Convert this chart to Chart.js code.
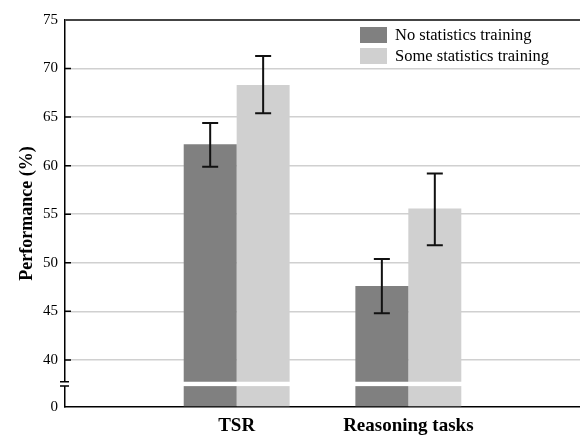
<!DOCTYPE html>
<html>
<head>
<meta charset="utf-8">
<script src="https://cdn.jsdelivr.net/npm/chart.js@4/dist/chart.umd.min.js"></script>
<style>
  html, body { margin: 0; padding: 0; background: #fff; }
  #wrap { width: 580px; height: 437px; position: relative; }
</style>
</head>
<body>
<div id="wrap"><canvas id="perf_chart"></canvas></div>
<script>
// values
const categories = ["TSR", "Reasoning tasks"];
const seriesNames = ["No statistics training", "Some statistics training"];
const noStats = [62.2, 47.6];
const someStats = [68.3, 55.6];
const noStatsLow = [59.9, 44.8];
const noStatsHigh = [64.4, 50.4];
const someStatsLow = [65.4, 51.8];
const someStatsHigh = [71.3, 59.2];
const yTicks = [40, 45, 50, 55, 60, 65, 70, 75];

const Y_MIN = 35.15; // bottom of the broken axis, labelled 0
const Y_MAX = 75;
const BREAK_LO = 37.3;
const BREAK_HI = 37.75;
const FONT = "'Liberation Serif', 'DejaVu Serif', serif";

// pad categories so the groups sit at one third and two thirds
function pad(arr) {
  return [null].concat(arr, [null]);
}

const errorBars = {
  id: "errorBars",
  afterDatasetsDraw(chart) {
    const ctx = chart.ctx;
    const y = chart.scales.y;
    const lows = [noStatsLow, someStatsLow];
    const highs = [noStatsHigh, someStatsHigh];
    ctx.save();
    ctx.strokeStyle = "#111";
    ctx.lineWidth = 2;
    chart.data.datasets.forEach(function (ds, d) {
      const meta = chart.getDatasetMeta(d);
      for (let i = 0; i < categories.length; i++) {
        const bar = meta.data[i + 1];
        const top = y.getPixelForValue(highs[d][i]);
        const bot = y.getPixelForValue(lows[d][i]);
        ctx.beginPath();
        ctx.moveTo(bar.x, top);
        ctx.lineTo(bar.x, bot);
        ctx.moveTo(bar.x - 8, top);
        ctx.lineTo(bar.x + 8, top);
        ctx.moveTo(bar.x - 8, bot);
        ctx.lineTo(bar.x + 8, bot);
        ctx.stroke();
      }
    });
    ctx.restore();
  },
};

// white gap across axis and bars, the two break marks, inner tick marks
const axisBreak = {
  id: "axisBreak",
  afterDraw(chart) {
    const ctx = chart.ctx;
    const area = chart.chartArea;
    const y = chart.scales.y;
    const yTop = y.getPixelForValue(BREAK_HI);
    const yBot = y.getPixelForValue(BREAK_LO);
    ctx.save();
    ctx.fillStyle = "#fff";
    ctx.fillRect(area.left - 2, yTop, area.right - area.left + 4, yBot - yTop);
    ctx.strokeStyle = "#000";
    ctx.lineWidth = 1.5;
    ctx.beginPath();
    ctx.moveTo(area.left - 5, yTop);
    ctx.lineTo(area.left + 4, yTop);
    ctx.moveTo(area.left - 5, yBot);
    ctx.lineTo(area.left + 4, yBot);
    yTicks.slice(0, -1).forEach(function (v) {
      const p = y.getPixelForValue(v);
      ctx.moveTo(area.left, p);
      ctx.lineTo(area.left + 6, p);
    });
    ctx.stroke();
    ctx.restore();
  },
};

const legendBox = {
  id: "legendBox",
  afterDraw(chart) {
    const ctx = chart.ctx;
    ctx.save();
    ctx.font = "16.5px " + FONT;
    ctx.textBaseline = "middle";
    chart.data.datasets.forEach(function (ds, d) {
      const top = 27 + d * 21;
      ctx.fillStyle = ds.backgroundColor;
      ctx.fillRect(360, top, 27, 16);
      ctx.fillStyle = "#000";
      ctx.fillText(ds.label, 395, top + 8.5);
    });
    ctx.restore();
  },
};

function init() {
  const ctx = document.getElementById("perf_chart");
  new Chart(ctx, {
    type: "bar",
    data: {
      labels: pad(categories),
      datasets: [
        {
          label: seriesNames[0],
          data: pad(noStats),
          backgroundColor: "#808080",
          base: Y_MIN,
        },
        {
          label: seriesNames[1],
          data: pad(someStats),
          backgroundColor: "#d0d0d0",
          base: Y_MIN,
        },
      ],
    },
    options: {
      responsive: true,
      maintainAspectRatio: false,
      animation: false,
      layout: { padding: { top: 20, right: 0, left: 0, bottom: 0 } },
      datasets: {
        bar: { barPercentage: 1.0, categoryPercentage: 0.617 },
      },
      plugins: {
        legend: { display: false },
        tooltip: { enabled: false },
      },
      scales: {
        x: {
          offset: false,
          grid: { display: false, drawTicks: false },
          border: { display: true, color: "#000", width: 1.5 },
          ticks: {
            color: "#000",
            padding: 8,
            maxRotation: 0,
            autoSkip: false,
            font: { family: FONT, size: 19, weight: "bold" },
          },
          afterFit: function (scale) {
            scale.height = 30;
          },
        },
        y: {
          min: Y_MIN,
          max: Y_MAX,
          afterBuildTicks: function (scale) {
            scale.ticks = [Y_MIN].concat(yTicks).map(function (v) {
              return { value: v };
            });
          },
          afterFit: function (scale) {
            scale.width = 65;
          },
          grid: {
            drawTicks: false,
            lineWidth: function (c) {
              return c.tick && c.tick.value === Y_MAX ? 2 : 1.5;
            },
            color: function (c) {
              if (!c.tick) return "#d0d0d0";
              if (c.tick.value === Y_MAX) return "#444";
              if (c.tick.value === Y_MIN) return "rgba(0,0,0,0)";
              return "#d0d0d0";
            },
          },
          border: { display: true, color: "#000", width: 1.5 },
          ticks: {
            color: "#000",
            padding: 7,
            font: { family: FONT, size: 15 },
            callback: function (v) {
              return v === Y_MIN ? "0" : v;
            },
          },
          title: {
            display: true,
            text: "Performance (%)",
            color: "#000",
            padding: { top: 17, bottom: 0 },
            font: { family: FONT, size: 18, weight: "bold" },
          },
        },
      },
    },
    plugins: [errorBars, axisBreak, legendBox],
  });
}

window.onload = init;
</script>
</body>
</html>
